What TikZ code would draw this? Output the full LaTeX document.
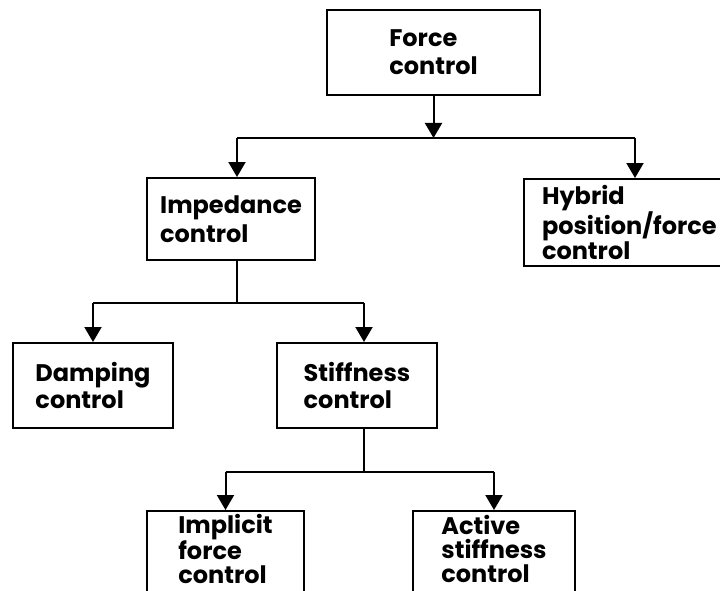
\documentclass[tikz,border=0pt]{standalone}
\usepackage{fontspec}
\setmainfont{Poppins}
\usetikzlibrary{arrows.meta}

\tikzset{
  box/.style={draw, line width=2pt, rectangle, align=left, inner sep=0pt,
    font=\fontsize{24}{#1}\selectfont\bfseries},
  box/.default=28,
  link/.style={line width=2pt},
  arr/.style={link, -{Triangle[width=17pt,length=15pt]}}
}

\begin{document}
\begin{tikzpicture}[x=1pt, y=-1pt]
  \clip (0,0) rectangle (720,591);
  \useasboundingbox (0,0) rectangle (720,591);

  % boxes
  \node[box=28, minimum width=213pt, minimum height=85pt] (force) at (433.5,52.5) {Force\\control};
  \node[box=29, minimum width=168pt, minimum height=82pt] (imp)   at (231,219)   {Impedance\\control};
  \node[box=24.5, anchor=north west, inner xsep=18pt, minimum height=87pt] (hyb) at (523,178)
    {Hybrid\\position/force\\control};
  \node[box=27, minimum width=160pt, minimum height=85pt] (damp)  at (93,385.5)  {Damping\\control};
  \node[box=27, minimum width=160pt, minimum height=85pt] (stiff) at (357,385.5) {Stiffness\\control};
  \node[box=24, text depth=15pt, minimum width=157pt, minimum height=90pt] (impl) at (225.5,556)
    {Implicit\\force\\control};
  \node[box=24, text depth=15pt, minimum width=162pt, minimum height=90pt] (act)  at (494,556)
    {Active\\stiffness\\control};

  % attachment points off the box centres
  \coordinate (impN) at ([xshift=6pt]imp.north);
  \coordinate (impS) at ([xshift=6pt]imp.south);
  \coordinate (stfN) at ([xshift=7pt]stiff.north);
  \coordinate (stfS) at ([xshift=7pt]stiff.south);
  \coordinate (hybN) at ([xshift=112pt]hyb.north west);

  % junction points of the branches
  \coordinate (j1) at (433.5,138);
  \coordinate (j2) at (237,303);
  \coordinate (j3) at (364,472);

  % force control branch
  \draw[arr] (force.south) -- (j1);
  \draw[link] (j1 -| impN) -- (j1 -| hybN);
  \draw[arr] (j1 -| impN) -- (impN);
  \draw[arr] (j1 -| hybN) -- (hybN);

  % impedance control branch
  \draw[link] (impS) -- (j2);
  \draw[link] (j2 -| damp.north) -- (j2 -| stfN);
  \draw[arr] (j2 -| damp.north) -- (damp.north);
  \draw[arr] (j2 -| stfN) -- (stfN);

  % stiffness control branch
  \draw[link] (stfS) -- (j3);
  \draw[link] (j3 -| impl.north) -- (j3 -| act.north);
  \draw[arr] (j3 -| impl.north) -- (impl.north);
  \draw[arr] (j3 -| act.north) -- (act.north);
\end{tikzpicture}
\end{document}
